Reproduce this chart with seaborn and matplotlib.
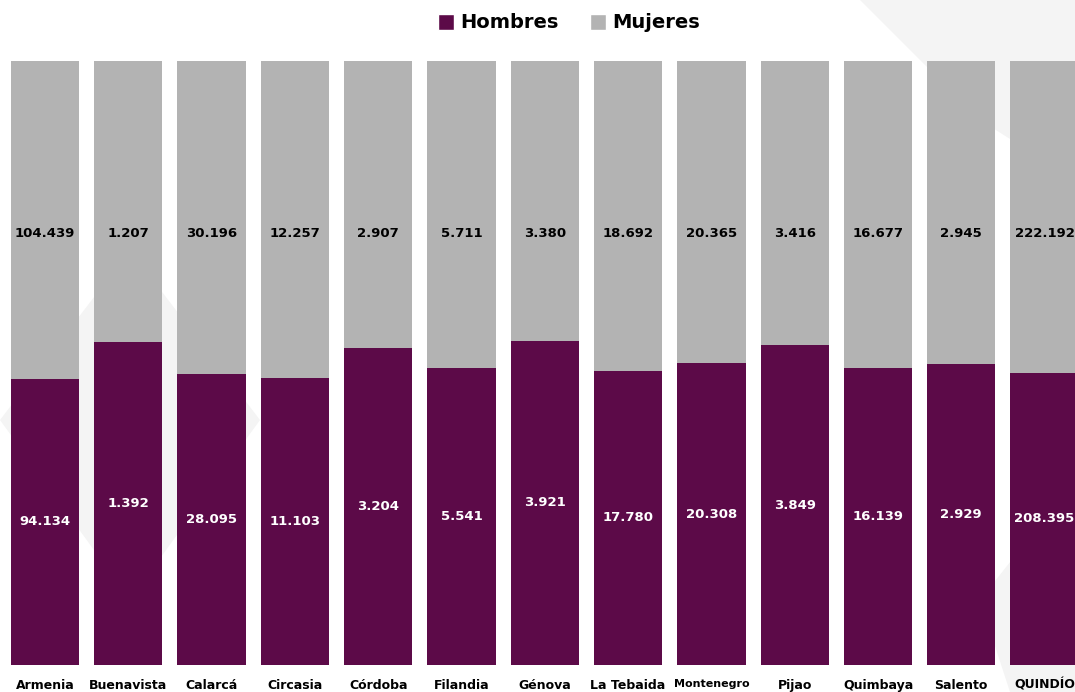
import matplotlib
matplotlib.use("Agg")
import matplotlib.pyplot as plt
import seaborn as sns
import pandas as pd
import numpy as np
from matplotlib.patches import Patch, Polygon

municipios = ["Armenia", "Buenavista", "Calarcá", "Circasia", "Córdoba", "Filandia",
              "Génova", "La Tebaida", "Montenegro", "Pijao", "Quimbaya", "Salento", "QUINDÍO"]
hombres = [94134, 1392, 28095, 11103, 3204, 5541, 3921, 17780, 20308, 3849, 16139, 2929, 208395]
mujeres = [104439, 1207, 30196, 12257, 2907, 5711, 3380, 18692, 20365, 3416, 16677, 2945, 222192]

C_H = "#5C0A48"
C_M = "#B3B3B3"

def fmt(v):
    return f"{v:,}".replace(",", ".")

sns.set_theme(style="white")
plt.rcParams["font.family"] = ["DejaVu Sans"]

df = pd.DataFrame({"municipio": municipios, "hombres": hombres, "mujeres": mujeres})
df["total"] = df["hombres"] + df["mujeres"]
df["pct_h"] = df["hombres"] / df["total"] * 100
df["pct_t"] = 100.0

fig = plt.figure(figsize=(10.75, 6.92), dpi=100)
fig.patch.set_facecolor("white")

# faint decorative background shapes
bg = fig.add_axes([0, 0, 1, 1], zorder=-1)
bg.set_xlim(0, 1075); bg.set_ylim(692, 0); bg.axis("off")
for pts in [[(860, 0), (1075, 0), (1075, 180), (980, 120)],
            [(0, 420), (130, 250), (260, 420), (130, 600)],
            [(980, 600), (1075, 480), (1075, 692), (1010, 692)]]:
    bg.add_patch(Polygon(pts, closed=True, facecolor="#F4F4F4", edgecolor="none"))

ax = fig.add_axes([3.4 / 1075, 27 / 692, 1 - 3.4 / 1075, 604 / 692])
ax.patch.set_alpha(0)

sns.barplot(data=df, x="municipio", y="pct_t", color=C_M, width=0.82, ax=ax,
            saturation=1, edgecolor="none")
sns.barplot(data=df, x="municipio", y="pct_h", color=C_H, width=0.82, ax=ax,
            saturation=1, edgecolor="none")

for i, (h, m, ph) in enumerate(zip(df["hombres"], df["mujeres"], df["pct_h"])):
    ax.text(i, ph / 2, fmt(h), ha="center", va="center", color="white",
            fontsize=9.5, fontweight="bold")
    ax.text(i, 71.5, fmt(m), ha="center", va="center", color="black",
            fontsize=9.5, fontweight="bold")

ax.set_xlim(-0.5, (1075 - 45) / 83.3)
ax.set_ylim(0, 100)
ax.set_xlabel(""); ax.set_ylabel("")
ax.set_yticks([])
ax.tick_params(axis="x", length=0, pad=10)
for lab in ax.get_xticklabels():
    lab.set_fontsize(8 if lab.get_text() == "Montenegro" else 9)
    lab.set_fontweight("bold")
    lab.set_color("black")
for s in ax.spines.values():
    s.set_visible(False)

handles = [Patch(facecolor=C_H, label="Hombres"), Patch(facecolor=C_M, label="Mujeres")]
fig.legend(handles=handles, loc="center", bbox_to_anchor=(0.529, 1 - 23 / 692), ncol=2,
           frameon=False, prop={"size": 14, "weight": "bold"}, handlelength=0.85,
           handleheight=0.85, handletextpad=0.3, columnspacing=1.6)
for t in fig.legends[0].get_texts():
    t.set_color("black")

fig.savefig("out.png", dpi=100)
